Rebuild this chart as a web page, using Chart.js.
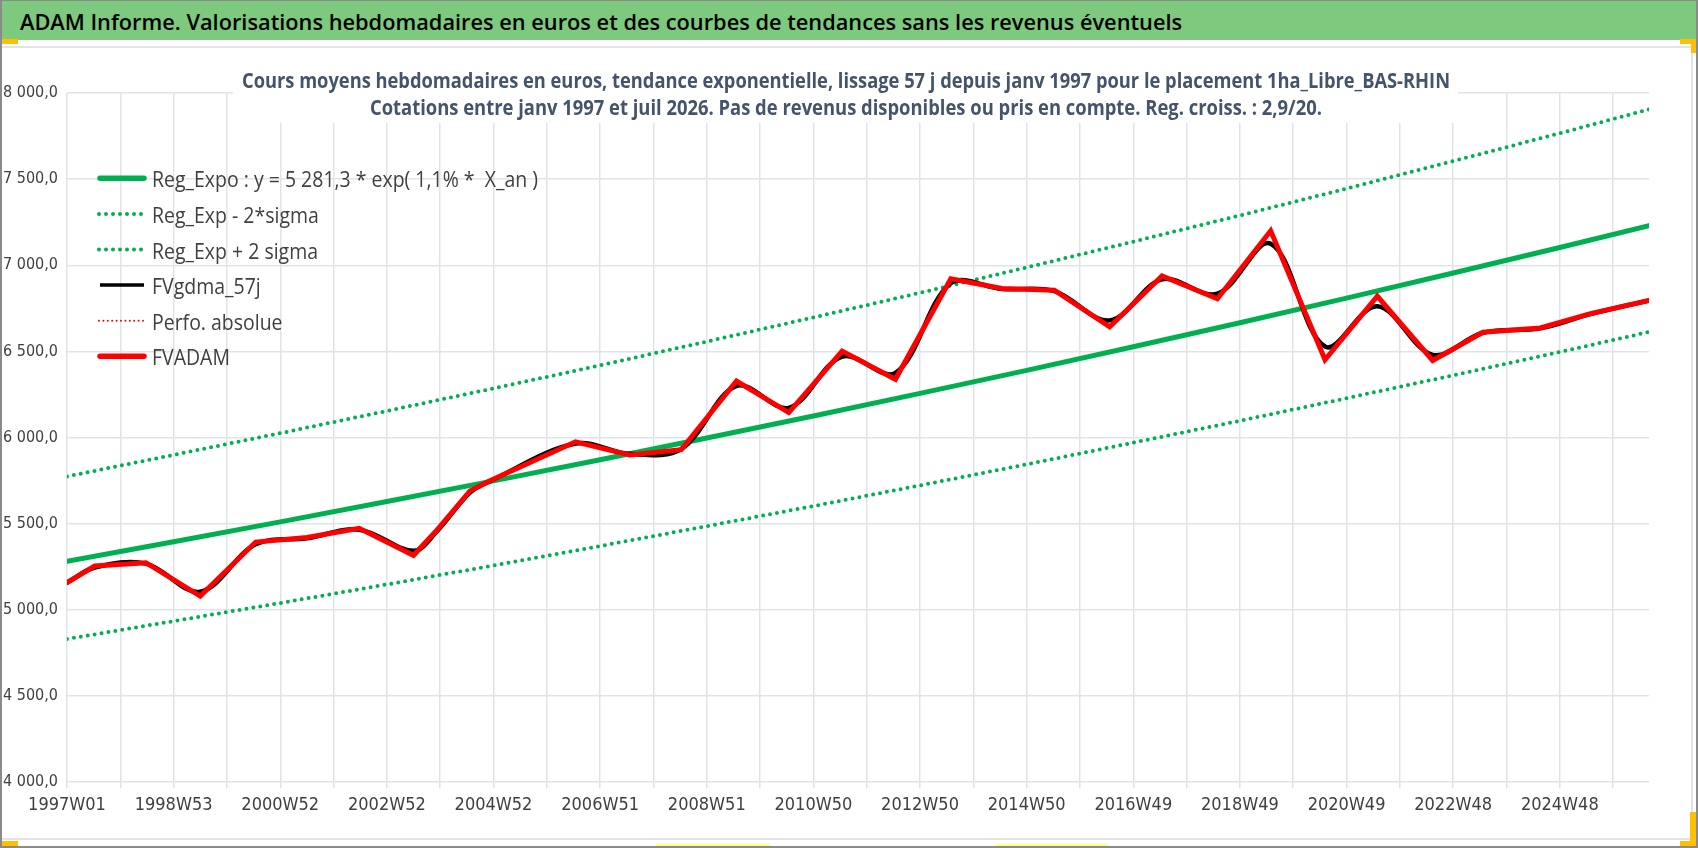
<!DOCTYPE html>
<html>
<head>
<meta charset="utf-8">
<script src="https://cdn.jsdelivr.net/npm/chart.js@4.4.1/dist/chart.umd.min.js"></script>
<style>
html, body { margin: 0; padding: 0; background: #fff; }
#page { position: relative; width: 1698px; height: 848px; overflow: hidden; background: #fff; }
#chart { position: absolute; left: 0; top: 0; }
#banner { position: absolute; left: 2px; top: 1px; width: 1694px; height: 39px; background: #7dc97e; }
#banner span { position: absolute; left: 18px; top: 11px; font-size: 21px; line-height: 21px; font-weight: 600;
  font-family: 'Open Sans', sans-serif; color: #000; white-space: nowrap; transform-origin: 0 0; }
.ln { position: absolute; }
</style>
</head>
<body>
<div id="page">
  <canvas id="chart" width="1698" height="848"></canvas>
  <div id="banner"><span id="bannerText">ADAM Informe. Valorisations hebdomadaires en euros et des courbes de tendances sans les revenus éventuels</span></div>
  <div class="ln" style="left:2px;top:46px;width:1690px;height:2px;background:#e3e3e3"></div>
  <div class="ln" style="left:1691px;top:46px;width:2px;height:794px;background:#e3e3e3"></div>
  <div class="ln" style="left:2px;top:838px;width:1690px;height:2px;background:#e3e3e3"></div>
  <div class="ln" style="left:0;top:0;width:2px;height:848px;background:#8a8a8a"></div>
  <div class="ln" style="left:0;top:0;width:1698px;height:1px;background:#8a8a8a"></div>
  <div class="ln" style="left:1696px;top:0;width:2px;height:848px;background:#8a8a8a"></div>
  <div class="ln" style="left:0;top:846px;width:1698px;height:2px;background:#8a8a8a"></div>
  <div class="ln" style="left:2px;top:39px;width:16px;height:5px;background:#ffc000"></div>
  <div class="ln" style="left:1680px;top:39px;width:16px;height:5px;background:#ffc000"></div>
  <div class="ln" style="left:1691px;top:39px;width:5px;height:14px;background:#ffc000"></div>
  <div class="ln" style="left:2px;top:841px;width:16px;height:5px;background:#ffc000"></div>
  <div class="ln" style="left:1680px;top:841px;width:16px;height:5px;background:#ffc000"></div>
  <div class="ln" style="left:1690px;top:812px;width:6px;height:34px;background:#ffc000"></div>
  <div class="ln" style="left:656px;top:844px;width:114px;height:2px;background:#ffff80"></div>
  <div class="ln" style="left:996px;top:844px;width:112px;height:2px;background:#ffff80"></div>
</div>
<script>
// x axis: week index since 1997W01, one label every 104 weeks
const tickLabels = ['1997W01', '1998W53', '2000W52', '2002W52', '2004W52', '2006W51', '2008W51', '2010W50',
  '2012W50', '2014W50', '2016W49', '2018W49', '2020W49', '2022W48', '2024W48'];
const weeksPerLabel = 104;
const lastWeek = 1543;

// trend curves, read at each label and at the end
const trendWeeks = [0, 104, 208, 312, 416, 520, 624, 728, 832, 936, 1040, 1144, 1248, 1352, 1456, 1543];
const regExpo = [5281, 5395, 5510, 5628, 5748, 5871, 5997, 6125, 6256, 6390, 6527, 6666, 6809, 6955, 7103, 7230];
const regLow = [4830, 4934, 5039, 5147, 5257, 5370, 5485, 5602, 5722, 5844, 5970, 6097, 6228, 6361, 6496, 6613];
const regHigh = [5774, 5899, 6025, 6154, 6285, 6419, 6557, 6697, 6840, 6987, 7137, 7289, 7445, 7605, 7766, 7905];

// FVADAM and its 57 day average, read at the corners of the curve
const fvWeeks = [0, 27, 77, 130, 184, 234, 285, 338, 360, 393, 412, 496, 549, 599, 653, 704, 756, 808,
  862, 912, 963, 1017, 1068, 1122, 1174, 1227, 1278, 1332, 1381, 1437, 1485, 1543];
const fvadam = [5157, 5254, 5273, 5079, 5393, 5419, 5473, 5316, 5457, 5690, 5748, 5975, 5898, 5929, 6328, 6145, 6502, 6338,
  6921, 6865, 6855, 6643, 6938, 6805, 7200, 6451, 6821, 6447, 6611, 6636, 6718, 6796];
const fvgdma = [5157, 5245, 5268, 5105, 5380, 5415, 5465, 5342, 5450, 5680, 5745, 5965, 5905, 5932, 6300, 6172, 6470, 6375,
  6895, 6862, 6850, 6680, 6918, 6835, 7125, 6528, 6762, 6480, 6608, 6634, 6715, 6796];

const chartTitle = [
  'Cours moyens hebdomadaires en euros, tendance exponentielle, lissage 57 j depuis janv 1997 pour le placement 1ha_Libre_BAS-RHIN',
  'Cotations entre janv 1997 et juil 2026. Pas de revenus disponibles ou pris en compte. Reg. croiss. : 2,9/20.'
];

function pts(xs, ys) {
  return xs.map((x, i) => ({ x: x, y: ys[i] }));
}

function frNum(v) {
  const parts = v.toFixed(1).split('.');
  return parts[0].replace(/\B(?=(\d{3})+(?!\d))/g, ' ') + ',' + parts[1];
}

function fitText(ctx, text, x, y, w) {
  const m = ctx.measureText(text).width;
  ctx.save();
  ctx.translate(x, y);
  ctx.scale(w / m, 1);
  ctx.fillText(text, 0, 0);
  ctx.restore();
}

// banner text squeezed to the width of the original
let bt = document.getElementById('bannerText');
bt.style.transform = 'scaleX(' + (1162 / bt.offsetWidth) + ')';

const overlay = {
  id: 'overlay',
  beforeDatasetsDraw(chart) {
    const ctx = chart.ctx;
    ctx.save();
    ctx.fillStyle = '#fff';
    ctx.fillRect(233, 60, 1225, 63);
    ctx.fillStyle = '#44546a';
    ctx.font = "bold 20.5px 'Open Sans'";
    ctx.textAlign = 'left';
    ctx.textBaseline = 'alphabetic';
    fitText(ctx, chartTitle[0], 242, 88, 1208);
    fitText(ctx, chartTitle[1], 370, 115, 952);
    ctx.restore();
  },
  afterDraw(chart) {
    const ctx = chart.ctx;
    const sets = chart.data.datasets;
    ctx.save();
    ctx.font = "21px 'Open Sans'";
    ctx.textAlign = 'left';
    ctx.textBaseline = 'alphabetic';
    let s = 386 / ctx.measureText(sets[0].label).width;
    sets.forEach((ds, i) => {
      let y = 178.3 + i * 35.6;
      ctx.strokeStyle = ds.borderColor;
      ctx.lineWidth = ds.legendWidth || ds.borderWidth;
      ctx.setLineDash(ds.borderDash || []);
      ctx.lineCap = ds.borderCapStyle || 'butt';
      ctx.beginPath();
      ctx.moveTo(ds.borderDash ? 99 : 100, y);
      ctx.lineTo(ds.borderDash ? 146 : 144, y);
      ctx.stroke();
      ctx.fillStyle = '#404040';
      ctx.save();
      ctx.translate(152, y + 9);
      ctx.scale(s, 1);
      ctx.fillText(ds.label, 0, 0);
      ctx.restore();
    });
    ctx.restore();
  }
};

const green = '#00b050';

new Chart(document.getElementById('chart'), {
  type: 'line',
  data: {
    datasets: [
      { label: 'Reg_Expo : y = 5 281,3 * exp( 1,1% *  X_an )', data: pts(trendWeeks, regExpo),
        borderColor: green, borderWidth: 5, borderCapStyle: 'round', legendWidth: 5.5, order: 5 },
      { label: 'Reg_Exp - 2*sigma', data: pts(trendWeeks, regLow),
        borderColor: green, borderWidth: 4, borderDash: [0, 7], borderCapStyle: 'round', order: 4 },
      { label: 'Reg_Exp + 2 sigma', data: pts(trendWeeks, regHigh),
        borderColor: green, borderWidth: 4, borderDash: [0, 7], borderCapStyle: 'round', order: 3 },
      { label: 'FVgdma_57j', data: pts(fvWeeks, fvgdma),
        borderColor: '#000000', borderWidth: 4.5, tension: 0.35, legendWidth: 3.5, order: 2 },
      { label: 'Perfo. absolue', data: [],
        borderColor: '#ff0000', borderWidth: 2, borderDash: [0, 4.4], borderCapStyle: 'round', order: 1 },
      { label: 'FVADAM', data: pts(fvWeeks, fvadam),
        borderColor: '#ff0000', borderWidth: 5, borderCapStyle: 'round', legendWidth: 5.5, order: 0 }
    ]
  },
  options: {
    responsive: false,
    animation: false,
    devicePixelRatio: 1,
    layout: { padding: { left: 3, top: 93, right: 49, bottom: 0 } },
    elements: { point: { radius: 0 }, line: { fill: false } },
    plugins: { legend: { display: false }, title: { display: false }, tooltip: { enabled: false } },
    scales: {
      x: {
        type: 'linear',
        min: 0,
        max: lastWeek,
        afterFit: (axis) => { axis.height = 66; },
        afterBuildTicks: (axis) => {
          let t = [];
          for (let w = 0; w <= lastWeek; w += weeksPerLabel / 2) t.push({ value: w });
          axis.ticks = t;
        },
        grid: { color: '#dfe3ea', lineWidth: 1.5, tickLength: 6 },
        border: { display: false },
        ticks: {
          autoSkip: false,
          maxRotation: 0,
          padding: 7,
          color: '#404040',
          font: { family: "'Liberation Sans Narrow', 'DejaVu Sans Condensed', 'Open Sans'", size: 18 },
          callback: (v) => (v % weeksPerLabel === 0 ? tickLabels[v / weeksPerLabel] : '')
        }
      },
      y: {
        min: 4000,
        max: 8000,
        afterFit: (axis) => { axis.width = 64; },
        grid: { color: '#dfe3ea', lineWidth: 1.5, drawTicks: false },
        border: { display: false },
        ticks: {
          stepSize: 500,
          crossAlign: 'far',
          padding: 0,
          color: '#404040',
          font: { family: "'Liberation Sans Narrow', 'DejaVu Sans Condensed', 'Open Sans'", size: 16 },
          callback: (v) => frNum(v)
        }
      }
    }
  },
  plugins: [overlay]
});
</script>
</body>
</html>
